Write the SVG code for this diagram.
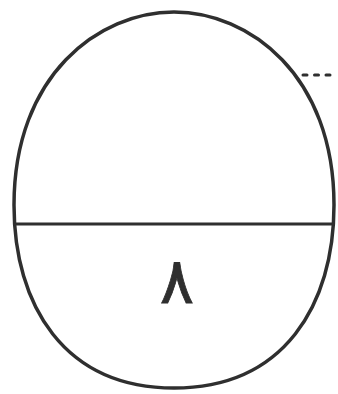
<svg xmlns="http://www.w3.org/2000/svg" width="338" height="394" viewBox="0 0 338 394">
<style>
.ln{fill:none;stroke:#2f2f2f;stroke-linecap:round;stroke-linejoin:round}
.lbl{font-family:"DejaVu Sans",sans-serif;fill:#2f2f2f;stroke:#2f2f2f;stroke-width:0.8;text-anchor:middle}
</style>
<rect width="338" height="394" fill="#ffffff"/>
<g id="egg">
<path class="ln" stroke-width="3.5" d="M174,12 C249,12 334,75 334,205 C334,305 284,388 174,388 C64,388 14,305 14,205 C14,75 99,12 174,12 Z"/>
</g>
<g id="divider">
<path class="ln" stroke-width="3.2" d="M15,224 H333"/>
</g>
<g id="leader">
<path class="ln" stroke-width="3" stroke-linecap="butt" stroke-dasharray="4,7.5" d="M303,75 H333"/>
</g>
<g id="label">
<text class="lbl" x="177" y="303" font-size="64">۸</text>
</g>
</svg>
